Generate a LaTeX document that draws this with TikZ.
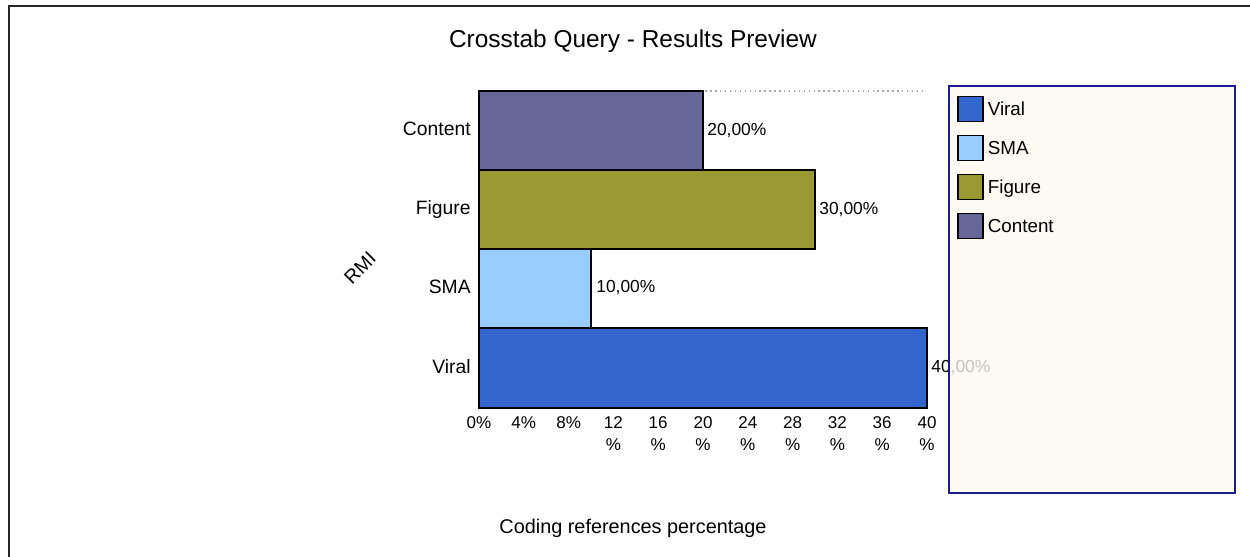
\documentclass[tikz,border=0pt]{standalone}
\usepackage{fontspec}
\setmainfont{Liberation Sans}
\usepackage{xcolor}
\definecolor{viral}{RGB}{51,102,204}
\definecolor{sma}{RGB}{153,204,255}
\definecolor{figure}{RGB}{153,153,51}
\definecolor{content}{RGB}{102,102,153}
\definecolor{legendbg}{RGB}{253,249,242}
\definecolor{legendline}{RGB}{28,28,140}
\usetikzlibrary{positioning}

\begin{document}
\begin{tikzpicture}[
        x=0.02cm, y=-0.02cm,
        bar/.style={draw=black, line width=1.1pt, fill=#1},
        swatch/.style={rectangle, draw=black, line width=1.1pt, fill=#1, minimum size=0.5cm, inner sep=0pt},
        catlabel/.style={anchor=mid east, inner sep=0pt, font=\fontsize{11}{13}\selectfont},
        vallabel/.style={anchor=mid west, inner sep=0pt, font=\fontsize{9.9}{12}\selectfont},
        ticklabel/.style={anchor=north, inner sep=0pt, align=center, font=\fontsize{9.7}{12.6}\selectfont},
        lgtext/.style={anchor=mid west, yshift=-1.3pt, inner sep=0pt, font=\fontsize{10.7}{13}\selectfont}
    ]
        \useasboundingbox (0,0) rectangle (1250,557);
        \fill[white] (0,0) rectangle (1250,557);
        \draw[line width=1.2pt, black!85] (9,557) -- (9,6) -- (1250,6);

        \node[font=\fontsize{13.9}{16}\selectfont] (title) at (633,41) {Crosstab Query - Results Preview};

        % plot area
        \draw[gray!70, dotted, line width=0.8pt] (479,91) -- (925,91);
        \draw[bar=content] (479,91) rectangle (703,170);
        \draw[bar=figure] (479,170) rectangle (815,249);
        \draw[bar=sma] (479,249) rectangle (591,328);
        \draw[bar=viral] (479,328) rectangle (927,408);

        \node[catlabel] (lcontent) at (471,131) {Content};
        \node[catlabel] (lfigure) at (471,210) {Figure};
        \node[catlabel] (lsma) at (471,289) {SMA};
        \node[catlabel] (lviral) at (471,369) {Viral};

        \node[vallabel] (vcontent) at (707,131) {20,00\%};
        \node[vallabel] (vfigure) at (819,210) {30,00\%};
        \node[vallabel] (vsma) at (596,288) {10,00\%};
        \node[vallabel] (vviral) at (931,368) {40,00\%};

        \node[ticklabel] (t0) at (479,416) {0\%};
        \node[ticklabel] (t4) at (523.8,416) {4\%};
        \node[ticklabel] (t8) at (568.6,416) {8\%};
        \foreach \v [count=\i from 3] in {12,16,20,24,28,32,36,40}
            \node[ticklabel] (t\v) at (479+44.8*\i,416) {\v\\\%};

        \node[rotate=45, inner sep=0pt, font=\fontsize{11}{13}\selectfont] (rmi) at (360,268) {RMI};
        \node[font=\fontsize{11.3}{13}\selectfont] (xtitle) at (633,528) {Coding references percentage};

        % legend
        \draw[draw=legendline, line width=1.3pt, fill=legendbg, fill opacity=0.78] (949,86) rectangle (1235,493);
        \node[swatch=viral] (sviral) at (970.5,109) {};
        \node[swatch=sma] (ssma) at (970.5,148) {};
        \node[swatch=figure] (sfigure) at (970.5,187) {};
        \node[swatch=content] (scontent) at (970.5,226) {};
        \node[right=2pt of sviral, lgtext] (tviral) {Viral};
        \node[right=2pt of ssma, lgtext] (tsma) {SMA};
        \node[right=2pt of sfigure, lgtext] (tfigure) {Figure};
        \node[right=2pt of scontent, lgtext] (tcontent) {Content};
    \end{tikzpicture}
\end{document}
